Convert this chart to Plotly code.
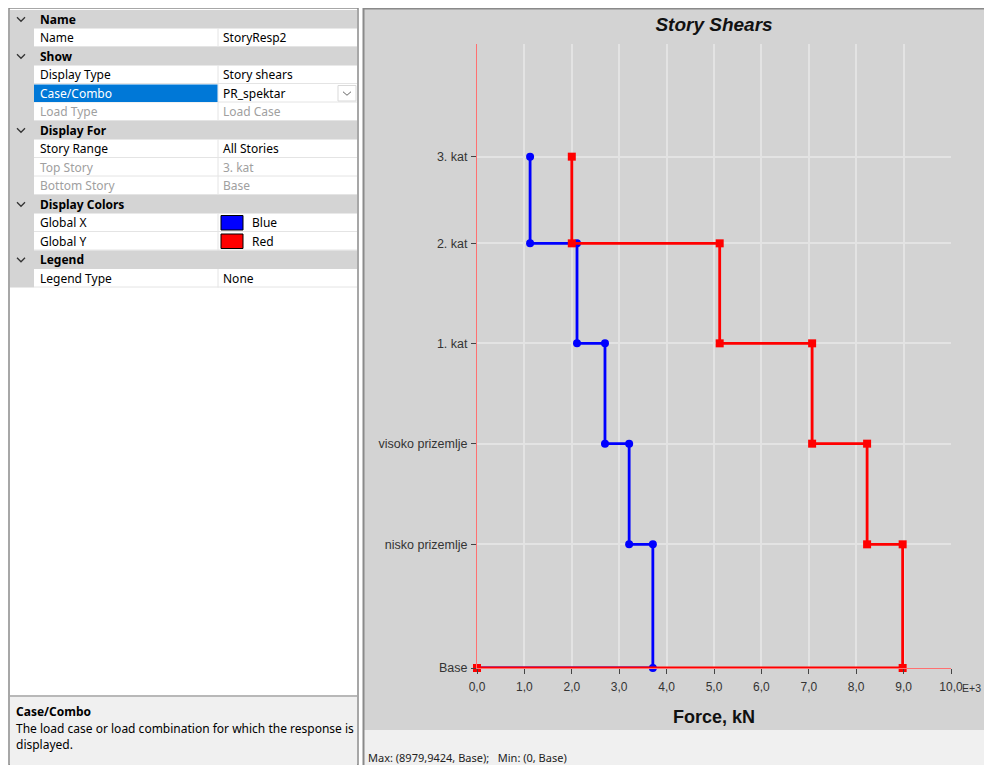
import plotly.graph_objects as go

# ---------------- data ----------------
stories = ["Base", "nisko prizemlje", "visoko prizemlje", "1. kat", "2. kat", "3. kat"]
elevations = [0.0, 3.71, 6.73, 9.74, 12.74, 15.34]          # m (story levels)
shear_global_x = [3.71, 3.21, 2.70, 2.11, 1.12]             # kN x1000, story below each level (bottom->top)
shear_global_y = [8.98, 8.23, 7.07, 5.12, 2.00]
x_ticks = [0, 1, 2, 3, 4, 5, 6, 7, 8, 9, 10]
x_tick_labels = ["0,0", "1,0", "2,0", "3,0", "4,0", "5,0", "6,0", "7,0", "8,0", "9,0", "10,0"]

# property grid contents
grid_rows = [
    ("cat", "Name", ""),
    ("prop", "Name", "StoryResp2"),
    ("cat", "Show", ""),
    ("prop", "Display Type", "Story shears"),
    ("sel", "Case/Combo", "PR_spektar"),
    ("dis", "Load Type", "Load Case"),
    ("cat", "Display For", ""),
    ("prop", "Story Range", "All Stories"),
    ("dis", "Top Story", "3. kat"),
    ("dis", "Bottom Story", "Base"),
    ("cat", "Display Colors", ""),
    ("colx", "Global X", "Blue"),
    ("coly", "Global Y", "Red"),
    ("cat", "Legend", ""),
    ("prop", "Legend Type", "None"),
]

# page offset (body margin of the html page)
OX, OY = 8, 8
W, H = 992 - OX, 765 - OY
# plot area in page pixels
PL, PR, PT, PB = 477, 951, 44, 668
L, R, T, B = PL - OX, PR - OX, PT - OY, PB - OY


def px(x):
    return (x - PL) / (PR - PL)


def py(y):
    return (PB - y) / (PB - PT)


def step_path(values):
    """Build story-shear step line from top story down to base."""
    xs, ys = [], []
    n = len(values)
    for i in range(n - 1, -1, -1):
        v = values[i]
        xs += [v, v]
        ys += [elevations[i + 1], elevations[i]]
    xs.append(0.0)
    ys.append(elevations[0])
    return xs, ys


fig = go.Figure()
bx, by = step_path(shear_global_x)
rx, ry = step_path(shear_global_y)
fig.add_trace(go.Scatter(x=bx, y=by, mode="lines+markers", cliponaxis=False,
                         line=dict(color="#0000ff", width=2.8),
                         marker=dict(color="#0000ff", size=8, symbol="circle"),
                         showlegend=False))
fig.add_trace(go.Scatter(x=rx, y=ry, mode="lines+markers", cliponaxis=False,
                         line=dict(color="#ff0000", width=2.8),
                         marker=dict(color="#ff0000", size=8, symbol="square"),
                         showlegend=False))

shapes = []
ann = []
FONT_UI = "Noto Sans"
FONT_CH = "Liberation Sans"


def rect(x0, y0, x1, y1, fill, line=None, lw=1, layer="below"):
    shapes.append(dict(type="rect", xref="paper", yref="paper",
                       x0=px(x0), x1=px(x1), y0=py(y0), y1=py(y1),
                       fillcolor=fill, layer=layer,
                       line=dict(color=line if line else "rgba(0,0,0,0)", width=lw if line else 0)))


def hline(x0, x1, y, color, lw=1, layer="below"):
    shapes.append(dict(type="line", xref="paper", yref="paper",
                       x0=px(x0), x1=px(x1), y0=py(y), y1=py(y),
                       line=dict(color=color, width=lw), layer=layer))


def vline(x, y0, y1, color, lw=1, layer="below"):
    shapes.append(dict(type="line", xref="paper", yref="paper",
                       x0=px(x), x1=px(x), y0=py(y0), y1=py(y1),
                       line=dict(color=color, width=lw), layer=layer))


def text(x, y, s, size=12, color="#000000", bold=False, xanchor="left", family=FONT_UI, italic=False):
    ann.append(dict(xref="paper", yref="paper", x=px(x), y=py(y), text=s,
                    showarrow=False, xanchor=xanchor, yanchor="middle",
                    font=dict(family=family, size=size, color=color,
                              weight="bold" if bold else "normal",
                              style="italic" if italic else "normal")))


# ---------- right chart panel ----------
rect(363, 8, 992, 730, "#d3d3d3")
rect(363, 730, 992, 765, "#f0f0f0")
vline(363.5, 8, 765, "#8a8a8a", 2)
hline(363, 992, 8.5, "#8a8a8a", 2)
text(366, 757, "Max: (8979,9424, Base);   Min: (0, Base)", size=11, color="#222222", family=FONT_UI)
text(714, 717, "Force, kN", size=18, bold=True, xanchor="center", family=FONT_CH, color="#111111")
text(983, 688, "E+3", size=10.5, color="#333333", family=FONT_CH, xanchor="right")

# ---------- left property grid ----------
rect(9, 8, 358, 765, "#ffffff", "#8a8a8a", 1.5)
row_h = 18.5
top = 10
rect(10, top, 34, top + row_h * len(grid_rows), "#d4d4d4")
for i, (kind, name, value) in enumerate(grid_rows):
    y0 = top + i * row_h
    y1 = y0 + row_h
    yc = (y0 + y1) / 2
    if kind == "cat":
        rect(10, y0, 357, y1, "#d4d4d4")
        shapes.append(dict(type="path", xref="paper", yref="paper",
                           path="M %f,%f L %f,%f L %f,%f" % (px(17), py(yc - 2), px(21), py(yc + 2), px(25), py(yc - 2)),
                           line=dict(color="#333333", width=1.3), layer="above"))
        text(38, yc, name, size=12, bold=True, color="#000000")
    else:
        hline(34, 357, y1 - 0.5, "#e4e4e4")
        vline(218, y0, y1, "#e4e4e4")
        col = "#000000"
        if kind == "dis":
            col = "#a0a0a0"
        if kind == "sel":
            rect(34, y0 + 0.5, 217.5, y1 - 0.5, "#0078d7")
            text(38, yc, name, size=12, color="#ffffff")
            # dropdown button
            rect(338, y0 + 1.5, 356, y1 - 1.5, "#ffffff", "#d9d9d9", 1)
            shapes.append(dict(type="path", xref="paper", yref="paper",
                               path="M %f,%f L %f,%f L %f,%f" % (px(343), py(yc - 1.5), px(347), py(yc + 2), px(351), py(yc - 1.5)),
                               line=dict(color="#666666", width=1), layer="above"))
        else:
            text(38, yc, name, size=12, color=col)
        if kind == "colx":
            rect(221, y0 + 2, 243, y1 - 2, "#0000ff", "#000000", 1)
            text(250, yc, value, size=12, color=col)
        elif kind == "coly":
            rect(221, y0 + 2, 243, y1 - 2, "#ff0000", "#000000", 1)
            text(250, yc, value, size=12, color=col)
        else:
            text(221, yc, value, size=12, color=col)

# description panel
rect(10, 697, 357, 765, "#f0f0f0")
hline(10, 357, 696, "#a0a0a0", 1.5)
text(14, 711, "Case/Combo", size=12, bold=True)
text(14, 728, "The load case or load combination for which the response is", size=12)
text(14, 744, "displayed.", size=12)

fig.update_layout(
    width=W, height=H,
    margin=dict(l=L, r=W - R, t=T, b=H - B, pad=0),
    paper_bgcolor="#ffffff",
    plot_bgcolor="#ffffff",
    shapes=shapes,
    annotations=ann,
    title=dict(text="Story Shears", x=px(714), xref="paper", xanchor="center",
               y=1 - (24 - OY) / H, yref="container", yanchor="middle",
               font=dict(family=FONT_CH, size=19, color="#111111", weight="bold", style="italic")),
    xaxis=dict(range=[0, 10], tickvals=x_ticks, ticktext=x_tick_labels,
               showgrid=True, gridcolor="#e3e3e3", gridwidth=1.5, zeroline=False,
               showline=True, linecolor="#ff7070", linewidth=1,
               ticks="outside", ticklen=5, tickcolor="#444444", ticklabelstandoff=3,
               tickfont=dict(family=FONT_CH, size=12, color="#333333"), fixedrange=True),
    yaxis=dict(range=[0, (PB - PT) / 33.333], tickvals=elevations, ticktext=stories,
               showgrid=True, gridcolor="#e3e3e3", gridwidth=1.5, zeroline=False,
               showline=True, linecolor="#ff7070", linewidth=1,
               ticks="outside", ticklen=5, tickcolor="#444444", ticklabelstandoff=1,
               tickfont=dict(family=FONT_CH, size=12.5, color="#333333"), fixedrange=True),
)

fig.write_html("out.html")
